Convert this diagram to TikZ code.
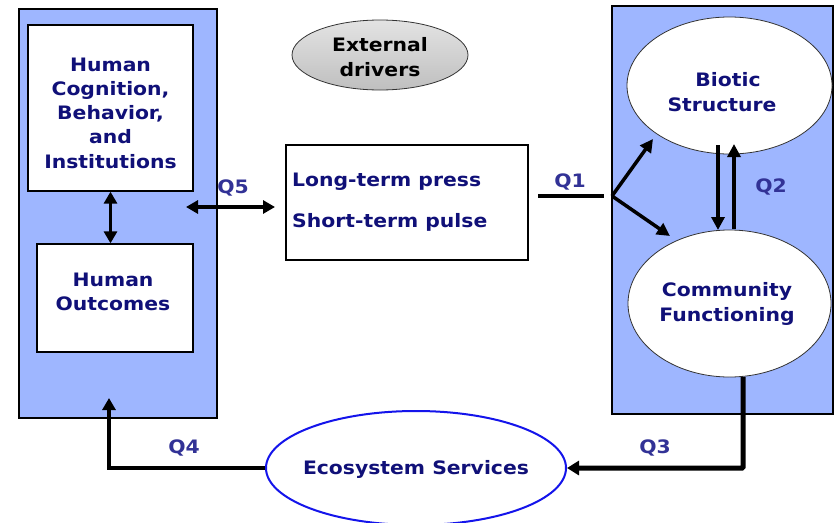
\documentclass[tikz,border=0pt]{standalone}
\usepackage{fontspec}
\setmainfont{DejaVu Sans}[FakeStretch=1.1]
\usetikzlibrary{arrows.meta,shapes.geometric}
\definecolor{navy}{RGB}{16,16,120}
\definecolor{qcol}{RGB}{50,50,150}
\definecolor{panelc}{RGB}{158,182,255}
\definecolor{eblue}{RGB}{20,20,235}
\begin{document}
\begin{tikzpicture}[x=1pt,y=-1pt,
  panelbox/.style={draw=black,line width=1.5pt,fill=panelc,inner sep=0pt},
  whitebox/.style={draw=black,line width=1.3pt,fill=white,inner sep=0pt},
  whiteell/.style={ellipse,draw=black!80,line width=0.8pt,fill=white,inner sep=0pt},
  txt/.style={font=\fontsize{18.5}{24.3}\selectfont\bfseries,text=navy,align=center,inner sep=0pt},
  qlab/.style={font=\fontsize{18.5}{20}\selectfont\bfseries,text=qcol,inner sep=0pt},
  arr/.style={line width=3.5pt,-{Triangle[length=13pt,width=13pt]}},
  dbl/.style={line width=3.5pt,{Triangle[length=12pt,width=13pt]}-{Triangle[length=12pt,width=13pt]}},
  heavy/.style={line width=5pt,-{Triangle[length=12pt,width=14pt]}}]
\useasboundingbox[fill=white] (0,0) rectangle (834,522);
% panels
\node[panelbox,minimum width=198pt,minimum height=409pt] (lpanel) at (118,213.5) {};
\node[panelbox,minimum width=221pt,minimum height=408pt] (rpanel) at (722.5,210) {};
% left boxes
\node[whitebox,minimum width=165pt,minimum height=166pt] (hcog) at (110.5,108) {};
\node[txt] (hcogt) at (110.5,113) {Human\\Cognition,\\Behavior,\\and\\Institutions};
\node[whitebox,minimum width=156pt,minimum height=108pt] (hout) at (115,298) {};
\node[txt] (houtt) at (113,292) {Human\\Outcomes};
% middle box
\node[whitebox,minimum width=242pt,minimum height=115pt] (mid) at (407,202.5) {};
\node[txt,anchor=west,align=left] (midt) at (292,202.5) {Long-term press\\[17pt]Short-term pulse};
% external drivers
\node[ellipse,draw=black!80,line width=0.8pt,top color=gray!22,bottom color=gray!50,minimum width=176pt,minimum height=70pt,inner sep=0pt] (ext) at (380,55) {};
\node[txt,text=black] (extt) at (380,57) {External\\drivers};
% right ellipses
\node[whiteell,minimum width=205pt,minimum height=137pt] (biot) at (729.5,85.5) {};
\node[txt] (biott) at (722,92) {\hspace*{12pt}Biotic\\Structure};
\node[whiteell,minimum width=203pt,minimum height=147pt] (comm) at (729.5,303.5) {};
\node[txt] (commt) at (727,304) {Community\\Functioning};
% ecosystem services
\node[ellipse,draw=eblue,line width=2pt,fill=white,minimum width=300pt,minimum height=114pt,inner sep=0pt] (eco) at (416,468) {};
\node[txt] (ecot) at (416,469) {Ecosystem Services};
% labels
\node[qlab] (q5) at (233,188) {Q5};
\node[qlab] (q1) at (570,182) {Q1};
\node[qlab] (q2) at (771,187) {Q2};
\node[qlab] (q3) at (655,448) {Q3};
\node[qlab] (q4) at (184,448) {Q4};
% coordinates
\coordinate (q5l) at (186,207);
\coordinate (q5r) at (275,207);
\coordinate (q1a) at (538,196);
\coordinate (q1b) at (604,196);
\coordinate (br) at (612,196);
\coordinate (brup) at (653,139);
\coordinate (brdn) at (670,236);
\coordinate (q4up) at (109,398);
% connectors
\draw[dbl] (hcog.south) -- (hcog.south |- hout.north);
\draw[dbl] (q5l) -- (q5r);
\draw[line width=4.5pt] (q1a) -- (q1b);
\draw[arr] (br) -- (brup);
\draw[arr] (br) -- (brdn);
\draw[arr] (718,145) -- (718,230);
\draw[arr] (734,229) -- (734,144);
\draw[heavy,rounded corners=1pt] (743,377) -- (743,468) -- (eco.east);
\draw[line width=4.5pt,-{Triangle[length=12pt,width=13pt]}] (eco.west) -- (109,468) -- (q4up);
\end{tikzpicture}
\end{document}
